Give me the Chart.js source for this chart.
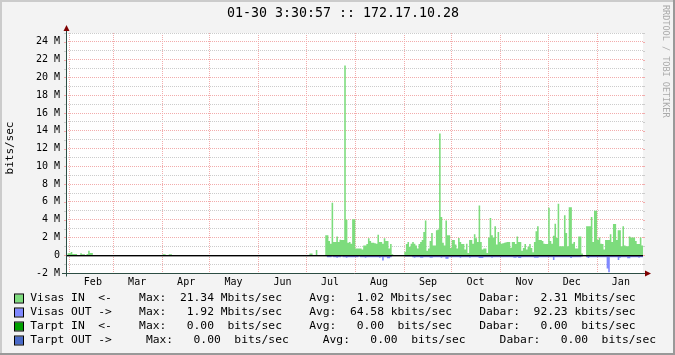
<!DOCTYPE html>
<html>
<head>
<meta charset="utf-8">
<script src="https://cdn.jsdelivr.net/npm/chart.js@4.4.0/dist/chart.umd.min.js"></script>
<style>
  html, body { margin: 0; padding: 0; background: #f3f3f3; }
  #wrap { width: 675px; height: 355px; }
</style>
</head>
<body>
<div id="wrap"><canvas id="graph" width="675" height="355"></canvas></div>
<script>
const title = '01-30 3:30:57 :: 172.17.10.28';
const yAxisLabel = 'bits/sec';
const watermark = 'RRDTOOL / TOBI OETIKER';

// x axis is in days since 01-30 of the previous year
const monthNames = ['Feb', 'Mar', 'Apr', 'May', 'Jun', 'Jul', 'Aug', 'Sep', 'Oct', 'Nov', 'Dec', 'Jan'];
const monthStart = [2, 30, 61, 91, 122, 152, 183, 214, 244, 275, 305, 336];
const dayMax = 365;

// y axis, Mbit/s
const yMin = -2;
const yMax = 25;
const yMajor = [-2, 0, 2, 4, 6, 8, 10, 12, 14, 16, 18, 20, 22, 24];
const yMinor = [-1, 1, 3, 5, 7, 9, 11, 13, 15, 17, 19, 21, 23, 25];

// daily values in Mbit/s, each array starts on the first day of its month
const inJanPrev = [0, 0.22];
const inFeb = [0.22, 0.37, 0.15, 0.15, 0.15, 0, 0, 0.22, 0.11, 0.11, 0, 0.15, 0.5, 0.26, 0.26];
const inApr = [0.1, 0.1, 0, 0, 0.1, 0.1];
const inJul = [0, 0, 0.2, 0.2, 0, 0, 0.6, 0, 0, 0, 0, 0, 2.25, 2.25, 1.6, 1.3,
  5.9, 1.5, 1.5, 2.1, 1.5, 1.75, 1.7, 1.7, 21.34, 4.0, 1.4, 1.5, 1.3, 4.05, 4.05];
const inAug = [0.75, 0.75, 0.75, 0.75, 0.64, 1.1, 1.1, 1.25, 1.9, 1.6, 1.4, 1.4, 1.35, 1.3,
  2.3, 1.5, 1.5, 1.3, 1.9, 1.6, 1.6, 0.75, 1.25, 0.1, 0, 0, 0, 0, 0, 0, 0];
const inSep = [0.4, 1.25, 1.5, 0.95, 1.3, 1.5, 1.3, 1.1, 0.75, 1.25, 1.5, 1.7, 2.6, 3.9, 0.5,
  0.75, 1.6, 2.5, 1.1, 1.1, 2.8, 2.9, 13.7, 4.3, 1.4, 1.1, 3.9, 2.25, 2.25, 0.8];
const inOct = [1.7, 1.7, 1.2, 0.75, 1.95, 1.5, 1.25, 1.25, 0.64, 1.3, 0.26, 1.7, 1.7, 1.3, 2.35,
  1.9, 1.5, 5.6, 1.5, 0.64, 0.75, 0.75, 0.26, 2.0, 4.2, 2.25, 2.0, 3.25, 1.2, 2.6, 1.5];
const inNov = [1.3, 1.35, 1.4, 1.45, 1.5, 1.5, 0.85, 1.5, 1.5, 1.25, 2.1, 1.5, 1.5, 0.5, 0.8,
  1.25, 0.64, 0.95, 1.25, 0.8, 0.34, 1.5, 2.7, 3.25, 1.7, 1.7, 1.6, 1.3, 1.25, 1.25];
const inDec = [5.35, 1.6, 1.3, 2.2, 3.55, 1.95, 5.8, 1.0, 1.0, 1.0, 4.5, 2.5, 1.0, 5.4, 5.4,
  1.3, 1.5, 0.75, 0.75, 2.1, 2.1, 0.2, 0, 0, 3.25, 3.25, 3.25, 4.3, 1.5, 5.0, 5.0];
const inJan = [1.7, 2.0, 1.3, 1.25, 0.64, 1.7, 1.7, 1.7, 2.35, 1.5, 3.5, 3.5, 1.7, 2.8, 2.8,
  1.0, 3.25, 1.1, 1.0, 1.0, 2.1, 2.0, 2.0, 2.0, 1.6, 1.25, 1.25, 2.0, 1.1, 2.25];

const outJul = [0, 0, 0, 0, 0, 0, 0, 0, 0, 0, 0, 0, 0, -0.22, -0.22, -0.22,
  -0.15, -0.22, -0.22, -0.28, -0.22, -0.22, -0.15, -0.22, -0.22, -0.28, -0.22, -0.22, -0.22, -0.22, -0.22];
const outAug = [-0.22, -0.22, -0.15, -0.22, -0.22, -0.22, -0.28, -0.22, -0.22, -0.22, -0.22, -0.22, -0.22, -0.22,
  -0.22, -0.28, -0.22, -0.6, -0.22, -0.22, -0.35, -0.35, -0.22, 0, 0, 0, 0, 0, 0, 0, 0];
const outSep = [-0.15, -0.15, -0.15, -0.15, -0.15, -0.22, -0.28, -0.22, -0.22, -0.22, -0.28, -0.28, -0.22, -0.22, -0.22,
  -0.22, -0.28, -0.28, -0.22, -0.22, -0.22, -0.22, -0.22, -0.28, -0.22, -0.22, -0.4, -0.4, -0.22, -0.22];
const outOct = [-0.22, -0.22, -0.22, -0.22, -0.22, -0.28, -0.22, -0.22, -0.22, -0.22, -0.22, -0.28, -0.22, -0.22, -0.22,
  -0.22, -0.22, -0.3, -0.3, -0.3, -0.22, -0.22, -0.22, -0.22, -0.22, -0.28, -0.22, -0.22, -0.22, -0.22, -0.22];
const outNov = [-0.22, -0.22, -0.22, -0.22, -0.22, -0.22, -0.22, -0.22, -0.28, -0.28, -0.22, -0.3, -0.3, -0.22, -0.22,
  -0.22, -0.22, -0.22, -0.22, -0.22, -0.22, -0.28, -0.28, -0.28, -0.22, -0.22, -0.22, -0.22, -0.22, -0.22];
const outDec = [-0.22, -0.22, -0.22, -0.55, -0.22, -0.22, -0.22, -0.22, -0.22, -0.22, -0.22, -0.22, -0.22, -0.22, -0.3,
  -0.22, -0.22, -0.22, -0.22, -0.22, -0.22, -0.15, 0, 0, -0.22, -0.3, -0.22, -0.22, -0.22, -0.22, -0.22];
const outJan = [-0.22, -0.22, -0.22, -0.22, -0.22, -0.22, -1.5, -1.92, -0.22, -0.22, -0.22, -0.22, -0.22, -0.55, -0.28,
  -0.22, -0.22, -0.22, -0.22, -0.35, -0.35, -0.22, -0.22, -0.22, -0.22, -0.22, -0.28, -0.22, -0.22, -0.22];

// legend rows
const legendNames = ['Visas IN  <-', 'Visas OUT ->', 'Tarpt IN  <-', 'Tarpt OUT ->'];
const legendMax = ['21.34 M', '1.92 M', '0.00 ', '0.00 '];
const legendAvg = ['1.02 M', '64.58 k', '0.00 ', '0.00 '];
const legendDabar = ['2.31 M', '92.23 k', '0.00 ', '0.00 '];
const legendColors = ['#7ddc7d', '#7f88ff', '#00a000', '#4a6ac8'];

const inParts = [[0, inJanPrev], [monthStart[0], inFeb], [monthStart[2], inApr], [monthStart[5], inJul],
  [monthStart[6], inAug], [monthStart[7], inSep], [monthStart[8], inOct], [monthStart[9], inNov],
  [monthStart[10], inDec], [monthStart[11], inJan]];
const outParts = [[monthStart[5], outJul], [monthStart[6], outAug], [monthStart[7], outSep], [monthStart[8], outOct],
  [monthStart[9], outNov], [monthStart[10], outDec], [monthStart[11], outJan]];

// each value holds from its day to the next point (stepped 'before')
function stepPoints(parts) {
  const pts = [{ x: 0, y: 0 }];
  parts.forEach(([start, vals]) => {
    vals.forEach((v, i) => pts.push({ x: start + i, y: v * 1e6 }));
    pts.push({ x: start + vals.length, y: 0 });
  });
  return pts;
}

const FONT = 'DejaVu Sans Mono';
const MGRID = '#f2acac';
const GRID = '#cccccc';
const AXIS = '#2c4d43';
const ARROW = '#7f0000';

function pad(s, n) { while (s.length < n) s = ' ' + s; return s; }
function legendRow(i) {
  const fmt = v => { const parts = v.split(' '); return pad(parts[0], 6) + ' ' + (parts[1] || ' ') + 'bits/sec'; };
  const gap = i === 3 ? '     ' : '    ';
  return legendNames[i] + gap + 'Max: ' + fmt(legendMax[i]) + gap + 'Avg: ' + fmt(legendAvg[i]) +
    gap + 'Dabar: ' + fmt(legendDabar[i]);
}

const rrdDecor = {
  id: 'rrdDecor',
  beforeDraw(chart) {
    const ctx = chart.ctx, a = chart.chartArea;
    ctx.save();
    ctx.fillStyle = '#f3f3f3';
    ctx.fillRect(0, 0, chart.width, chart.height);
    ctx.fillStyle = '#cbcbcb';
    ctx.fillRect(0, 0, chart.width, 2);
    ctx.fillRect(0, 0, 2, chart.height);
    ctx.fillStyle = '#999999';
    ctx.fillRect(0, chart.height - 2, chart.width, 2);
    ctx.fillRect(chart.width - 2, 0, 2, chart.height);
    ctx.fillStyle = '#ffffff';
    ctx.fillRect(a.left, a.top, a.right - a.left, a.bottom - a.top);
    ctx.restore();
  },
  afterDraw(chart) {
    const ctx = chart.ctx, a = chart.chartArea;
    const ys = chart.scales.y;
    ctx.save();
    // zero rule
    const y0 = Math.floor(ys.getPixelForValue(0));
    ctx.fillStyle = '#000';
    ctx.fillRect(a.left, y0, a.right - a.left, 1.4);
    // tick marks
    yMajor.concat(yMinor).forEach(v => {
      const y = Math.round(ys.getPixelForValue(v * 1e6)) + 0.5;
      const major = v % 2 === 0;
      ctx.strokeStyle = major ? MGRID : GRID;
      ctx.lineWidth = 1;
      ctx.beginPath();
      ctx.moveTo(a.left - 2, y); ctx.lineTo(a.left, y);
      ctx.moveTo(a.right, y); ctx.lineTo(a.right + 2, y);
      ctx.stroke();
    });
    // axes
    const ax = Math.round(a.left) + 0.5, ay = Math.round(a.bottom) + 0.5;
    ctx.strokeStyle = AXIS;
    ctx.lineWidth = 1;
    ctx.beginPath();
    ctx.moveTo(ax, ay + 3); ctx.lineTo(ax, a.top - 4);
    ctx.moveTo(a.left - 4, ay); ctx.lineTo(a.right + 4, ay);
    ctx.stroke();
    ctx.fillStyle = ARROW;
    ctx.beginPath();
    ctx.moveTo(ax - 3, a.top - 2); ctx.lineTo(ax + 3, a.top - 2); ctx.lineTo(ax, a.top - 8); ctx.closePath();
    ctx.fill();
    ctx.beginPath();
    ctx.moveTo(a.right + 2, ay - 3); ctx.lineTo(a.right + 2, ay + 3); ctx.lineTo(a.right + 8, ay); ctx.closePath();
    ctx.fill();
    // title
    ctx.fillStyle = '#000';
    ctx.font = '13.3px "' + FONT + '"';
    ctx.textAlign = 'center';
    ctx.textBaseline = 'middle';
    ctx.fillText(title, 343, 14);
    // y label
    ctx.save();
    ctx.translate(10, 148);
    ctx.rotate(-Math.PI / 2);
    ctx.font = '11px "' + FONT + '"';
    ctx.fillText(yAxisLabel, 0, 0);
    ctx.restore();
    // watermark
    ctx.save();
    ctx.translate(665, 5);
    ctx.rotate(Math.PI / 2);
    ctx.font = '8.5px "' + FONT + '"';
    ctx.fillStyle = '#aaaaaa';
    ctx.textAlign = 'left';
    ctx.fillText(watermark, 0, 0);
    ctx.restore();
    // legend
    ctx.font = '11.3px "' + FONT + '"';
    ctx.textAlign = 'left';
    legendNames.forEach((n, i) => {
      const y = 298.5 + i * 14;
      ctx.fillStyle = legendColors[i];
      ctx.fillRect(15, y - 4, 8, 8);
      ctx.strokeStyle = '#000';
      ctx.lineWidth = 1;
      ctx.strokeRect(14.5, y - 4.5, 9, 9);
      ctx.fillStyle = '#000';
      ctx.fillText(legendRow(i), 30.3, y);
    });
    ctx.restore();
  }
};

const labelFont = { family: FONT, size: 10 };

new Chart(document.getElementById('graph'), {
  type: 'line',
  data: {
    datasets: [
      {
        label: 'Visas IN',
        data: stepPoints(inParts),
        stepped: 'before',
        fill: 'origin',
        backgroundColor: legendColors[0],
        borderColor: 'rgba(0,0,0,0)',
        borderWidth: 0,
        pointRadius: 0
      },
      {
        label: 'Visas OUT',
        data: stepPoints(outParts),
        stepped: 'before',
        fill: 'origin',
        backgroundColor: legendColors[1],
        borderColor: 'rgba(0,0,0,0)',
        borderWidth: 0,
        pointRadius: 0
      }
    ]
  },
  options: {
    responsive: false,
    animation: false,
    events: [],
    layout: { padding: { left: 0, right: 32, top: 33, bottom: 0 } },
    plugins: { legend: { display: false }, tooltip: { enabled: false } },
    scales: {
      x: {
        type: 'linear',
        min: 0,
        max: dayMax,
        position: 'bottom',
        weight: 1,
        afterBuildTicks: s => { s.ticks = monthStart.map(v => ({ value: v })); },
        afterFit: s => { s.height = 0; },
        ticks: { display: false },
        grid: { color: MGRID, drawTicks: true, tickLength: 3 },
        border: { display: false, dash: [1, 1] }
      },
      xm: {
        type: 'linear',
        min: 0,
        max: dayMax,
        position: 'bottom',
        weight: 0,
        afterBuildTicks: s => { s.ticks = monthStart.map(v => ({ value: v + 15 })); },
        afterFit: s => { s.height = 82; },
        ticks: {
          callback: (v, i) => monthNames[i],
          autoSkip: false,
          maxRotation: 0,
          padding: 3,
          color: '#000',
          font: labelFont
        },
        grid: { display: false, drawTicks: false },
        border: { display: false }
      },
      y: {
        type: 'linear',
        min: yMin * 1e6,
        max: yMax * 1e6,
        afterBuildTicks: s => { s.ticks = yMajor.concat(yMinor).sort((p, q) => p - q).map(v => ({ value: v * 1e6 })); },
        afterFit: s => { s.width = 66; },
        ticks: {
          autoSkip: false,
          padding: 6,
          color: '#000',
          font: labelFont,
          callback: v => {
            const m = Math.round(v / 1e6);
            if (m % 2 !== 0) return '';
            return m === 0 ? '0' : m + ' M';
          }
        },
        grid: {
          drawTicks: false,
          color: c => (Math.round(c.tick.value / 1e6) % 2 === 0 ? MGRID : GRID)
        },
        border: { display: false, dash: [1, 1] }
      }
    }
  },
  plugins: [rrdDecor]
});
</script>
</body>
</html>
